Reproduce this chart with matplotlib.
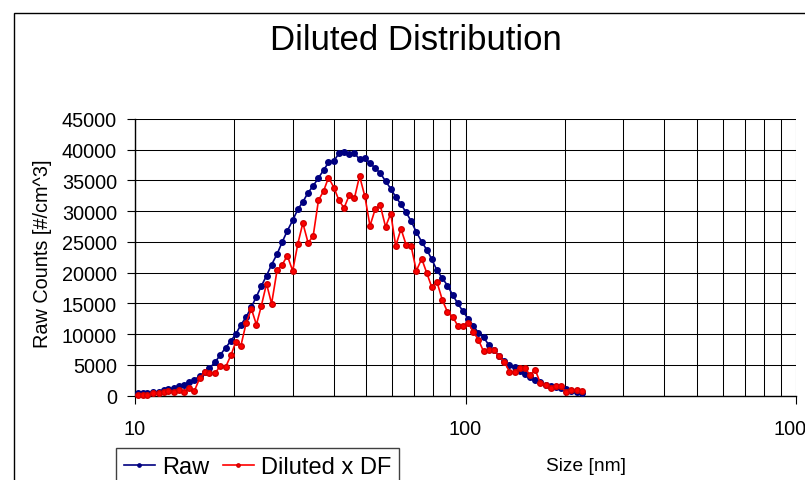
import matplotlib
matplotlib.use("Agg")
import matplotlib.pyplot as plt
from matplotlib.patches import Rectangle
from matplotlib.ticker import FixedLocator, NullFormatter

plt.rcParams["font.family"] = ["Liberation Sans", "DejaVu Sans"]

# SMPS channel mid-points (nm) and counts
sizes = [10.2, 10.6, 10.9, 11.3, 11.8, 12.2, 12.6, 13.1, 13.6, 14.1, 14.6, 15.1, 15.7, 16.3, 16.8,
         17.5, 18.1, 18.8, 19.5,
         20.2, 20.9, 21.7, 22.5, 23.3, 24.1, 25.0, 25.9, 26.9, 27.9, 28.9, 30.0, 31.1, 32.2, 33.4,
         34.6, 35.9, 37.2, 38.5,
         40.0, 41.4, 42.9, 44.5, 46.1, 47.8, 49.6, 51.4, 53.3, 55.2, 57.3, 59.4, 61.5, 63.8, 66.1,
         68.5, 71.0, 73.7, 76.4, 79.1, 82.0, 85.1, 88.2, 91.4, 94.7, 98.2,
         101.8, 105.5, 109.4, 113.4, 117.6, 121.9, 126.3, 131.0, 135.8, 140.7, 145.9, 151.2, 156.8,
         162.5, 168.5, 174.7, 181.1, 187.7, 194.6, 201.7, 209.1, 216.7, 224.7]

raw = [400, 450, 480, 550, 650, 850, 1050, 1250, 1500, 1800, 2150, 2550, 3200, 3800, 4450,
       5500, 6600, 7800, 8900,
       10050, 11500, 12800, 14400, 16100, 17800, 19500, 21300, 23000, 25000, 26800, 28500, 30300,
       31500, 33000, 34100, 35400, 36650, 37900,
       38150, 39400, 39650, 39300, 39450, 38400, 38550, 37850, 36950, 36200, 34850, 33650, 32300,
       31100, 29800, 28350, 26600, 25000, 23700, 22150, 20350, 19100, 17900, 16400, 15000, 13750,
       12500, 11400, 10200, 9500, 8250, 7350, 6500, 5700, 5050, 4600, 4050, 3500, 3000,
       2550, 2150, 1800, 1550, 1350, 1200, 1050, 800, 650, 450]

diluted = [100, 100, 150, 400, 400, 550, 800, 650, 1000, 650, 1200, 700, 2850, 3900, 3650,
           3650, 4900, 4650, 6550,
           8800, 8050, 11850, 14100, 11550, 14550, 18200, 14950, 20350, 21300, 22750, 20300, 24700,
           28050, 24850, 25950, 31750, 33250, 35450,
           33800, 31750, 30500, 32600, 32050, 35700, 32400, 27600, 30300, 30950, 27450, 29600, 24350,
           27100, 24550, 24250, 20300, 22250, 19900, 17600, 18450, 15550, 13600, 12850, 11400, 11400,
           11850, 10400, 9100, 7200, 7500, 7350, 6450, 5550, 3900, 3900, 4500, 4500, 3350,
           4200, 2050, 1800, 1200, 1600, 1500, 550, 950, 950, 700]

y_ticks = list(range(0, 45001, 5000))
x_major = [10, 100, 1000]
x_minor = [20, 30, 40, 50, 60, 70, 80, 90, 200, 300, 400, 500, 600, 700, 800, 900]

W, H = 805, 481
fig = plt.figure(figsize=(W / 100, H / 100), dpi=100)

# chart-area border (runs off the right/bottom edge like the screenshot)
fig.patches.append(Rectangle((14 / W, -0.1), 1.2, 1 - 14 / H + 0.1, transform=fig.transFigure,
                             fill=False, edgecolor="black", lw=1.0))

ax = fig.add_axes([135 / W, 1 - 396.7 / H, 661 / W, (396.7 - 119.8) / H])
ax.set_xscale("log")
ax.plot(sizes, raw, color="#000080", lw=1.2, marker="o", ms=4, mec="#000080", label="Raw",
        clip_on=False, zorder=3)
ax.plot(sizes, diluted, color="#ff0000", lw=1.2, marker="o", ms=4, mfc="#ff0000", mec="#d00000",
        label="Diluted x DF", clip_on=False, zorder=3)

ax.set_xlim(10, 1000)
ax.set_ylim(0, 45000)
ax.xaxis.set_major_locator(FixedLocator(x_major))
ax.xaxis.set_minor_locator(FixedLocator(x_minor))
ax.xaxis.set_minor_formatter(NullFormatter())
ax.set_xticklabels([str(v) for v in x_major])
ax.set_yticks(y_ticks)
ax.grid(True, which="both", color="black", lw=0.75)
ax.set_axisbelow(True)
ax.tick_params(axis="both", which="major", length=6, width=0.8, direction="out", labelsize=14.3)
ax.tick_params(axis="x", which="major", pad=11)
ax.tick_params(axis="y", which="major", pad=7)
ax.tick_params(axis="x", which="minor", length=0)
for s in ("top", "right"):
    ax.spines[s].set_visible(False)
for s in ("left", "bottom"):
    ax.spines[s].set_linewidth(1.0)

fig.text(416 / W, 1 - 40 / H, "Diluted Distribution", ha="center", va="center", fontsize=25)
fig.text(42 / W, 1 - 254 / H, "Raw Counts [#/cm^3]", ha="center", va="center", rotation=90,
         fontsize=14.3)
fig.text(586 / W, 1 - 467 / H, "Size [nm]", ha="center", va="center", fontsize=13.8)

fig.legend(loc="upper left", bbox_to_anchor=(115.7 / W, 1 - 449 / H), ncol=2, fontsize=17,
           frameon=True, fancybox=False, edgecolor="#404040", framealpha=1, borderaxespad=0,
           handlelength=1.3, handletextpad=0.3, columnspacing=0.6, borderpad=0.35,
           markerscale=0.6)

fig.savefig("out.png", dpi=100)
